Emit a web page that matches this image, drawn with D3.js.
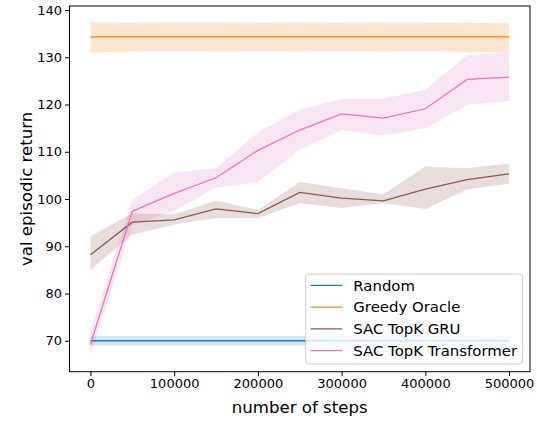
<!DOCTYPE html>
<html>
<head>
<meta charset="utf-8">
<script src="https://cdn.jsdelivr.net/npm/d3@7"></script>
<style>
  body { margin: 0; background: #fff; }
  svg { font-family: "DejaVu Sans", sans-serif; }
</style>
</head>
<body>
<div id="chart"></div>
<script>
// data
const steps = [0, 50000, 100000, 150000, 200000, 250000, 300000, 350000, 400000, 450000, 500000];

const randomMean = [70, 70, 70, 70, 70, 70, 70, 70, 70, 70, 70];
const randomLo = [69.0, 69.0, 69.0, 69.0, 69.0, 69.0, 69.0, 69.0, 69.0, 69.0, 69.0];
const randomHi = [71.0, 71.0, 71.0, 71.0, 71.0, 71.0, 71.0, 71.0, 71.0, 71.0, 71.0];

const oracleMean = [134.3, 134.3, 134.3, 134.3, 134.3, 134.3, 134.3, 134.3, 134.3, 134.3, 134.3];
const oracleLo = [131.0, 131.2, 131.3, 131.2, 131.3, 131.2, 131.3, 131.2, 131.3, 131.1, 131.0];
const oracleHi = [137.4, 137.3, 137.4, 137.4, 137.3, 137.4, 137.3, 137.4, 137.3, 137.3, 137.2];

const gruMean = [88.2, 95.1, 95.6, 97.9, 96.9, 101.4, 100.2, 99.6, 102.1, 104.1, 105.3];
const gruLo = [85.0, 92.5, 94.6, 96.0, 96.0, 99.1, 98.1, 99.1, 97.9, 102.0, 103.3];
const gruHi = [92.1, 97.0, 96.7, 99.7, 97.7, 103.6, 102.3, 101.0, 106.9, 106.5, 107.5];

const tfMean = [69.2, 97.4, 101.2, 104.5, 110.3, 114.6, 118.0, 117.1, 119.1, 125.3, 125.8];
const tfLo = [67.1, 94.5, 97.5, 102.4, 103.6, 110.4, 114.6, 113.4, 115.0, 119.9, 120.8];
const tfHi = [72.0, 99.8, 105.6, 106.5, 114.1, 118.9, 121.2, 121.2, 123.2, 130.5, 131.0];

const seriesNames = ["Random", "Greedy Oracle", "SAC TopK GRU", "SAC TopK Transformer"];
const seriesColors = ["#1f77b4", "#ff7f0e", "#8c564b", "#e377c2"];
const xTicks = [0, 100000, 200000, 300000, 400000, 500000];
const yTicks = [70, 80, 90, 100, 110, 120, 130, 140];

const series = [
  {mean: randomMean, lo: randomLo, hi: randomHi},
  {mean: oracleMean, lo: oracleLo, hi: oracleHi},
  {mean: gruMean, lo: gruLo, hi: gruHi},
  {mean: tfMean, lo: tfLo, hi: tfHi}
];

const W = 537, H = 422;
const margin = {top: 6, right: 7, bottom: 50.3, left: 69.5};
const width = W - margin.left - margin.right;
const height = H - margin.top - margin.bottom;

const svg = d3.select("#chart").append("svg")
  .attr("width", W).attr("height", H);
const g = svg.append("g")
  .attr("transform", "translate(" + margin.left + "," + margin.top + ")");

const x = d3.scaleLinear().domain([-25000, 525000]).range([0, width]);
const y = d3.scaleLinear().domain([63.45, 140.85]).range([height, 0]);

// bands then lines
series.forEach((s, i) => {
  const pts = steps.map((st, j) => ({x: st, lo: s.lo[j], hi: s.hi[j], m: s.mean[j]}));
  g.append("path")
    .datum(pts)
    .attr("d", d3.area().x(d => x(d.x)).y0(d => y(d.lo)).y1(d => y(d.hi)))
    .attr("fill", seriesColors[i])
    .attr("fill-opacity", 0.2);
});
series.forEach((s, i) => {
  const pts = steps.map((st, j) => ({x: st, m: s.mean[j]}));
  g.append("path")
    .datum(pts)
    .attr("d", d3.line().x(d => x(d.x)).y(d => y(d.m)))
    .attr("fill", "none")
    .attr("stroke", seriesColors[i])
    .attr("stroke-width", 1.3);
});

// axes
const xAxis = g.append("g")
  .attr("transform", "translate(0," + height + ")")
  .call(d3.axisBottom(x).tickValues(xTicks).tickFormat(d3.format("d")).tickSize(4.5).tickPadding(3));
const yAxis = g.append("g")
  .call(d3.axisLeft(y).tickValues(yTicks).tickFormat(d3.format("d")).tickSize(4.5).tickPadding(3));
[xAxis, yAxis].forEach(a => {
  a.selectAll("text").attr("font-size", 13).attr("fill", "#000").attr("font-family", "DejaVu Sans");
  a.selectAll("line").attr("stroke", "#000").attr("stroke-width", 1);
  a.select(".domain").remove();
});

// spines
g.append("rect")
  .attr("x", 0).attr("y", 0).attr("width", width).attr("height", height)
  .attr("fill", "none").attr("stroke", "#000").attr("stroke-width", 1);

// axis labels
svg.append("text")
  .attr("x", margin.left + x(250000)).attr("y", 412.7)
  .attr("text-anchor", "middle").attr("font-size", 16.6)
  .text("number of steps");
svg.append("text")
  .attr("transform", "translate(32," + (margin.top + height / 2) + ") rotate(-90)")
  .attr("text-anchor", "middle").attr("font-size", 16.6)
  .text("val episodic return");

// legend
const lg = svg.append("g").attr("transform", "translate(305.7,274)");
lg.append("rect")
  .attr("width", 217).attr("height", 90).attr("rx", 3)
  .attr("fill", "#fff").attr("fill-opacity", 0.8)
  .attr("stroke", "#cccccc").attr("stroke-width", 1);
seriesNames.forEach((name, i) => {
  const cy = 11.3 + i * 21.8;
  lg.append("line")
    .attr("x1", 5).attr("x2", 36.6).attr("y1", cy).attr("y2", cy)
    .attr("stroke", seriesColors[i]).attr("stroke-width", 1.3);
  lg.append("text")
    .attr("x", 47.6).attr("y", cy).attr("dy", "0.36em")
    .attr("font-size", 14.9)
    .text(name);
});
</script>
</body>
</html>
